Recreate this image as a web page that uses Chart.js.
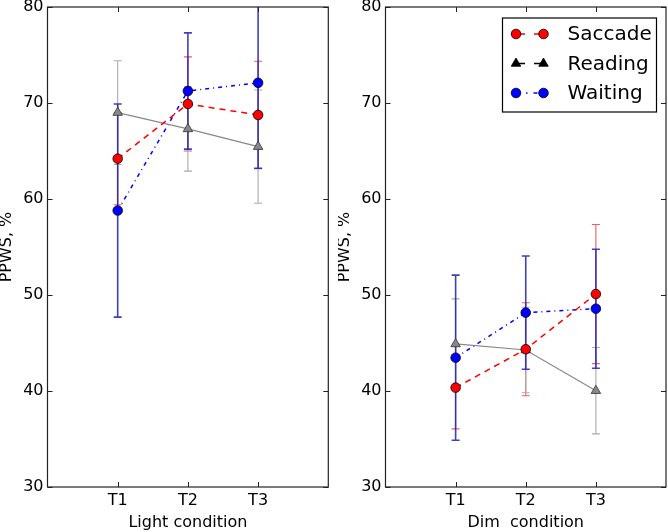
<!DOCTYPE html>
<html>
<head>
<meta charset="utf-8">
<script src="https://cdn.jsdelivr.net/npm/chart.js@4.4.1/dist/chart.umd.min.js"></script>
<style>
  body { margin: 0; background: #fff; }
  #wrap { position: relative; width: 668px; height: 532px; }
  canvas { position: absolute; top: 0; }
</style>
</head>
<body>
<div id="wrap">
  <canvas id="lightChart" width="338" height="532" style="left:0"></canvas>
  <canvas id="dimChart" width="330" height="532" style="left:338px"></canvas>
</div>
<script>
// categories and tick values
const categories = ['T1', 'T2', 'T3'];
const yTicks = [30, 40, 50, 60, 70, 80];
const seriesNames = ['Saccade', 'Reading', 'Waiting'];

// Light condition (means and error half-widths)
const lightSaccade = [64.2, 69.9, 68.75];
const lightSaccadeErr = [4.8, 4.9, 5.6];
const lightReading = [69.0, 67.3, 65.45];
const lightReadingErr = [5.4, 4.4, 5.9];
const lightWaiting = [58.8, 71.25, 72.1];
const lightWaitingErr = [11.1, 6.05, 8.9];

// Dim condition
const dimSaccade = [40.35, 44.35, 50.1];
const dimSaccadeErr = [4.3, 4.85, 7.25];
const dimReading = [44.9, 44.27, 40.03];
const dimReadingErr = [4.7, 4.45, 4.5];
const dimWaiting = [43.47, 48.16, 48.57];
const dimWaitingErr = [8.6, 5.9, 6.2];

const FONT = 'DejaVu Sans';

const styles = [
    { color: '#ff0000', err: 'rgba(230,40,40,0.75)', dash: [6, 5], legDash: [9, 9], width: 1.5, point: 'circle', radius: 4.8, edge: '#000' },
    { color: '#888888', err: '#aaaaaa', dash: [], legDash: [9, 9], width: 1.2, point: 'triangle', radius: 5.5, edge: '#333' },
    { color: '#0000ff', err: 'rgba(30,30,180,0.85)', dash: [4, 4, 1, 4], legDash: [4, 6, 1.5, 6], width: 1.5, point: 'circle', radius: 4.8, edge: '#000' }
];

function toPoints(vals) {
    return vals.map((v, i) => ({ x: i + 1, y: v }));
}

function makeDatasets(series) {
    return series.map((s, k) => ({
        label: seriesNames[k],
        data: toPoints(s.values),
        errors: s.errors,
        borderColor: styles[k].color,
        borderWidth: styles[k].width,
        borderDash: styles[k].dash,
        backgroundColor: styles[k].color,
        pointBackgroundColor: styles[k].color,
        pointBorderColor: styles[k].edge,
        pointBorderWidth: 0.8,
        pointStyle: styles[k].point,
        pointRadius: styles[k].radius,
        pointHoverRadius: styles[k].radius,
        showLine: true,
        fill: false,
        tension: 0,
        clip: false
    }));
}

// error bars drawn underneath the lines and markers
const errorBars = {
    id: 'errorBars',
    beforeDatasetsDraw(chart) {
        const ctx = chart.ctx;
        const xs = chart.scales.x, ys = chart.scales.y;
        const area = chart.chartArea;
        ctx.save();
        ctx.beginPath();
        ctx.rect(area.left, area.top, area.right - area.left, area.bottom - area.top);
        ctx.clip();
        chart.data.datasets.forEach((ds, k) => {
            ctx.strokeStyle = styles[k].err;
            ctx.lineWidth = k === 2 ? 1.6 : 1.1;
            ds.data.forEach((p, i) => {
                const e = ds.errors[i];
                const px = xs.getPixelForValue(p.x);
                const top = ys.getPixelForValue(p.y + e);
                const bot = ys.getPixelForValue(p.y - e);
                ctx.beginPath();
                ctx.moveTo(px, top); ctx.lineTo(px, bot);
                ctx.moveTo(px - 4, top); ctx.lineTo(px + 4, top);
                ctx.moveTo(px - 4, bot); ctx.lineTo(px + 4, bot);
                ctx.stroke();
            });
        });
        ctx.restore();
    }
};

// frame and inward tick marks
const frameTicks = {
    id: 'frameTicks',
    afterDraw(chart) {
        const ctx = chart.ctx;
        const a = chart.chartArea;
        const xs = chart.scales.x, ys = chart.scales.y;
        ctx.save();
        ctx.strokeStyle = '#222';
        ctx.lineWidth = 1.2;
        ctx.strokeRect(a.left, a.top, a.right - a.left, a.bottom - a.top);
        ctx.lineWidth = 1;
        ctx.beginPath();
        xs.ticks.forEach(t => {
            const px = Math.round(xs.getPixelForValue(t.value)) + 0.5;
            ctx.moveTo(px, a.bottom); ctx.lineTo(px, a.bottom - 5);
            ctx.moveTo(px, a.top); ctx.lineTo(px, a.top + 5);
        });
        ys.ticks.forEach(t => {
            const py = Math.round(ys.getPixelForValue(t.value)) + 0.5;
            ctx.moveTo(a.left, py); ctx.lineTo(a.left + 5, py);
            ctx.moveTo(a.right, py); ctx.lineTo(a.right - 5, py);
        });
        ctx.stroke();
        ctx.restore();
    }
};

// matplotlib-like legend inside the plot area
const boxLegend = {
    id: 'boxLegend',
    afterDraw(chart, args, opts) {
        if (!opts.show) return;
        const ctx = chart.ctx;
        const a = chart.chartArea;
        const bw = 154, bh = 94;
        const bx = a.right - 9.5 - bw, by = a.top + 11;
        ctx.save();
        ctx.fillStyle = '#fff';
        ctx.fillRect(bx, by, bw, bh);
        ctx.strokeStyle = '#000';
        ctx.lineWidth = 1.2;
        ctx.strokeRect(bx, by, bw, bh);
        const legColors = ['#ff0000', '#000000', '#0000ff'];
        chart.data.datasets.forEach((ds, k) => {
            const y = by + 16 + k * 29.5;
            const x1 = bx + 13.5, x2 = bx + 41;
            ctx.strokeStyle = legColors[k];
            ctx.lineWidth = 1.5;
            ctx.setLineDash(styles[k].legDash);
            ctx.beginPath();
            ctx.moveTo(x1, y); ctx.lineTo(x2, y);
            ctx.stroke();
            ctx.setLineDash([]);
            [x1, x2].forEach(x => {
                ctx.fillStyle = legColors[k];
                ctx.strokeStyle = '#000';
                ctx.lineWidth = 0.8;
                ctx.beginPath();
                if (styles[k].point === 'circle') {
                    ctx.arc(x, y, styles[k].radius, 0, Math.PI * 2);
                } else {
                    const r = styles[k].radius;
                    ctx.moveTo(x, y - r);
                    ctx.lineTo(x + r * 0.87, y + r * 0.5);
                    ctx.lineTo(x - r * 0.87, y + r * 0.5);
                    ctx.closePath();
                }
                ctx.fill();
                ctx.stroke();
            });
            ctx.fillStyle = '#000';
            ctx.font = '20px "' + FONT + '"';
            ctx.textBaseline = 'middle';
            ctx.textAlign = 'left';
            ctx.fillText(ds.label, bx + 65, y + 1);
        });
        ctx.restore();
    }
};

function makeChart(id, series, xTitle, rightPad, withLegend) {
    const ctx = document.getElementById(id).getContext('2d');
    return new Chart(ctx, {
        type: 'scatter',
        data: { datasets: makeDatasets(series) },
        options: {
            responsive: false,
            animation: false,
            devicePixelRatio: 1,
            layout: {
                autoPadding: false,
                padding: { top: 7, right: rightPad, bottom: 0, left: 0 }
            },
            plugins: {
                legend: { display: false },
                tooltip: { enabled: false },
                boxLegend: { show: withLegend }
            },
            scales: {
                x: {
                    type: 'linear',
                    min: 0,
                    max: 4,
                    afterBuildTicks: s => { s.ticks = categories.map((c, i) => ({ value: i + 1 })); },
                    afterFit: s => {
                        s.height = 45;
                        s.paddingLeft = 0; s.paddingRight = 0;
                        s.paddingTop = 0; s.paddingBottom = 0;
                    },
                    grid: { display: false, drawTicks: false },
                    border: { display: false },
                    ticks: {
                        color: '#000',
                        padding: 4,
                        maxRotation: 0,
                        font: { family: FONT, size: 16 },
                        callback: v => categories[v - 1]
                    },
                    title: {
                        display: true,
                        text: xTitle,
                        color: '#000',
                        padding: { top: 0, bottom: 0 },
                        font: { family: FONT, size: 16, lineHeight: 1.2 }
                    }
                },
                y: {
                    min: 30,
                    max: 80,
                    afterBuildTicks: s => { s.ticks = yTicks.map(v => ({ value: v })); },
                    afterFit: s => {
                        s.width = 47.5;
                        s.paddingLeft = 0; s.paddingRight = 0;
                        s.paddingTop = 0; s.paddingBottom = 0;
                    },
                    grid: { display: false, drawTicks: false },
                    border: { display: false },
                    ticks: {
                        color: '#000',
                        padding: 4,
                        font: { family: FONT, size: 16 }
                    },
                    title: {
                        display: true,
                        text: 'PPWS, %',
                        color: '#000',
                        padding: { top: 0, bottom: 0 },
                        font: { family: FONT, size: 16, lineHeight: 0.85 }
                    }
                }
            }
        },
        plugins: [errorBars, frameTicks, boxLegend]
    });
}

makeChart('lightChart', [
    { values: lightSaccade, errors: lightSaccadeErr },
    { values: lightReading, errors: lightReadingErr },
    { values: lightWaiting, errors: lightWaitingErr }
], 'Light condition', 9.7, false);

makeChart('dimChart', [
    { values: dimSaccade, errors: dimSaccadeErr },
    { values: dimReading, errors: dimReadingErr },
    { values: dimWaiting, errors: dimWaitingErr }
], 'Dim  condition', 2, true);
</script>
</body>
</html>
